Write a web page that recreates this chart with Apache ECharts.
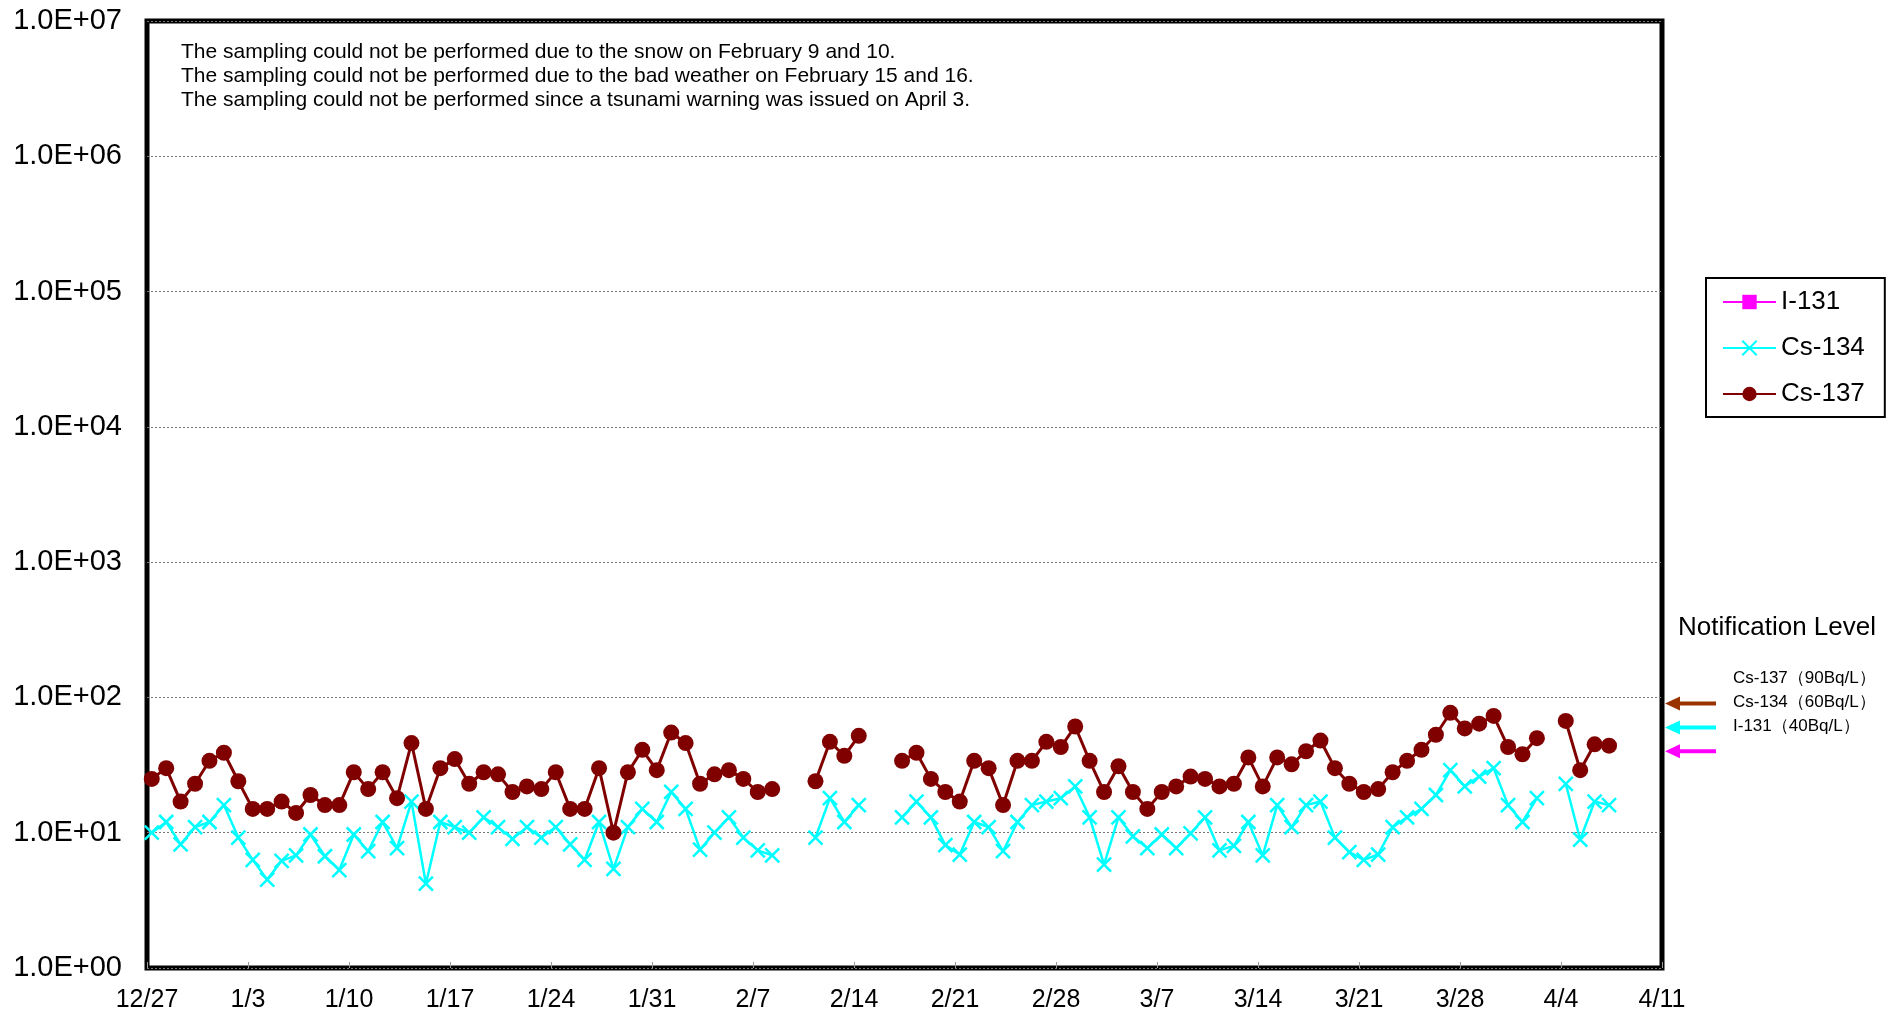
<!DOCTYPE html>
<html>
<head>
<meta charset="utf-8">
<script src="https://cdn.jsdelivr.net/npm/echarts@6/dist/echarts.min.js"></script>
<style>
html, body { margin: 0; padding: 0; background: #fff; }
#main { width: 1899px; height: 1016px; }
</style>
</head>
<body>
<div id="main"></div>
<script>
// sampling days (one per day, null value = no sampling)
var sampleDates = [
    '12/27','12/28','12/29','12/30','12/31','1/1','1/2',
    '1/3','1/4','1/5','1/6','1/7','1/8','1/9',
    '1/10','1/11','1/12','1/13','1/14','1/15','1/16',
    '1/17','1/18','1/19','1/20','1/21','1/22','1/23',
    '1/24','1/25','1/26','1/27','1/28','1/29','1/30',
    '1/31','2/1','2/2','2/3','2/4','2/5','2/6',
    '2/7','2/8','2/9','2/10','2/11','2/12','2/13',
    '2/14','2/15','2/16','2/17','2/18','2/19','2/20',
    '2/21','2/22','2/23','2/24','2/25','2/26','2/27',
    '2/28','3/1','3/2','3/3','3/4','3/5','3/6',
    '3/7','3/8','3/9','3/10','3/11','3/12','3/13',
    '3/14','3/15','3/16','3/17','3/18','3/19','3/20',
    '3/21','3/22','3/23','3/24','3/25','3/26','3/27',
    '3/28','3/29','3/30','3/31','4/1','4/2','4/3',
    '4/4','4/5','4/6','4/7'
];
// Cs-137 (Bq/L)
var cs137 = [
    25, 30, 17, 23, 34, 39, 24,
    15, 15, 17, 14, 19, 16, 16,
    28, 21, 28, 18, 46, 15, 30,
    35, 23, 28, 27, 20, 22, 21,
    28, 15, 15, 30, 10, 28, 41,
    29, 55, 46, 23, 27, 29, 25,
    20, 21, null, null, 24, 47, 37,
    52, null, null, 34, 39, 25, 20,
    17, 34, 30, 16, 34, 34, 47,
    43, 61, 34, 20, 31, 20, 15,
    20, 22, 26, 25, 22, 23, 36,
    22, 36, 32, 40, 48, 30, 23,
    20, 21, 28, 34, 41, 53, 77,
    59, 64, 73, 43, 38, 50, null,
    67, 29, 45, 44
];
// Cs-134 (Bq/L)
var cs134 = [
    10, 12, 8.2, 11, 12, 16, 9.2,
    6.3, 4.5, 6.2, 6.8, 9.7, 6.7, 5.3,
    9.7, 7.3, 12, 7.7, 17, 4.2, 12,
    11, 10, 13, 11, 9.0, 11, 9.2,
    11, 8.2, 6.3, 12, 5.4, 11, 15,
    12, 20, 15, 7.5, 10, 13, 9.2,
    7.4, 6.8, null, null, 9.2, 18, 12,
    16, null, null, 13, 17, 13, 8.1,
    6.9, 12, 11, 7.3, 12, 16, 17,
    18, 22, 13, 5.8, 13, 9.4, 7.7,
    9.7, 7.7, 9.9, 13, 7.4, 8.0, 12,
    6.8, 16, 11, 16, 17, 9.2, 7.2,
    6.3, 6.9, 11, 13, 15, 19, 29,
    22, 26, 30, 16, 12, 18, null,
    23, 8.9, 17, 16
];
// I-131: not detected
var i131 = [];

var tickLabels = ['12/27','1/3','1/10','1/17','1/24','1/31','2/7','2/14','2/21','2/28','3/7','3/14','3/21','3/28','4/4','4/11'];

var levelNames = ['Cs-137（90Bq/L）', 'Cs-134（60Bq/L）', 'I-131（40Bq/L）'];
var levelValues = [90, 60, 40];
var levelColors = ['#993300', '#00ffff', '#ff00ff'];

var notes = [
    'The sampling could not be performed due to the snow on February 9 and 10.',
    'The sampling could not be performed due to the bad weather on February 15 and 16.',
    'The sampling could not be performed since a tsunami warning was issued on April 3.'
];

var FONT = '"Liberation Sans", Arial, sans-serif';
var sampleHour = 0.33; // sampled in the morning

// date string -> days since 12/27
function dayIndex(s) {
    var p = s.split('/');
    var m = parseInt(p[0]), d = parseInt(p[1]);
    var y = m == 12 ? 2013 : 2014;
    return (Date.UTC(y, m - 1, d) - Date.UTC(2013, 11, 27)) / 86400000;
}

function toPoints(values) {
    var arr = [];
    for (var i = 0; i < sampleDates.length; i++) {
        var v = values[i];
        arr.push([dayIndex(sampleDates[i]) + sampleHour, v == null ? '-' : v]);
    }
    return arr;
}

var chart = echarts.init(document.getElementById('main'));

var option = {
    animation: false,
    textStyle: { fontFamily: FONT },
    grid: {
        left: 147,
        right: 237,
        top: 21,
        bottom: 48,
        show: true,
        borderColor: '#000',
        borderWidth: 5,
        backgroundColor: '#fff'
    },
    legend: {
        orient: 'vertical',
        left: 1706,
        top: 278,
        padding: [11, 20, 10, 16],
        itemGap: 20,
        itemWidth: 53,
        itemHeight: 18,
        borderColor: '#000',
        borderWidth: 2,
        backgroundColor: '#fff',
        textStyle: { fontSize: 26, lineHeight: 26, color: '#000', fontFamily: FONT },
        data: ['I-131', 'Cs-134', 'Cs-137']
    },
    xAxis: {
        type: 'value',
        min: 0,
        max: 105,
        interval: 7,
        axisLine: { show: false },
        axisTick: { show: true, inside: true, length: 6, lineStyle: { color: '#999', width: 1 } },
        splitLine: { show: false },
        axisLabel: {
            margin: 20,
            fontSize: 25,
            color: '#000',
            fontFamily: FONT,
            formatter: function(v) {
                return tickLabels[Math.round(v / 7)];
            }
        }
    },
    yAxis: {
        type: 'log',
        logBase: 10,
        min: 1,
        max: 10000000,
        interval: 1,
        axisLine: { show: false },
        axisTick: { show: false },
        splitLine: { show: true, lineStyle: { color: '#777', type: [2, 2], width: 1 } },
        axisLabel: {
            margin: 25,
            fontSize: 29,
            color: '#000',
            fontFamily: FONT,
            formatter: function(v) {
                var e = Math.round(Math.log(v) / Math.LN10);
                return '1.0E+' + (e < 10 ? '0' + e : e);
            }
        }
    },
    series: [
        {
            name: 'I-131',
            type: 'line',
            data: i131,
            symbol: 'rect',
            symbolSize: 12,
            itemStyle: { color: '#ff00ff' },
            lineStyle: { color: '#ff00ff', width: 2.5 }
        },
        {
            name: 'Cs-134',
            type: 'line',
            data: toPoints(cs134),
            connectNulls: false,
            symbol: 'path://M0,0L10,10M10,0L0,10',
            symbolSize: 14,
            showAllSymbol: true,
            itemStyle: { color: '#00ffff', borderColor: '#00ffff', borderWidth: 2.5 },
            lineStyle: { color: '#00ffff', width: 2.5 }
        },
        {
            name: 'Cs-137',
            type: 'line',
            data: toPoints(cs137),
            connectNulls: false,
            symbol: 'circle',
            symbolSize: 16,
            showAllSymbol: true,
            itemStyle: { color: '#800000' },
            lineStyle: { color: '#800000', width: 3 }
        }
    ]
};

chart.setOption(option);

// notes, notification level arrows
var graphics = [];
for (var i = 0; i < notes.length; i++) {
    graphics.push({
        type: 'text',
        x: 181,
        y: 52 + i * 24,
        style: { text: notes[i], font: '21px ' + FONT, fill: '#000', align: 'left', verticalAlign: 'middle' }
    });
}
graphics.push({
    type: 'text',
    x: 1678,
    y: 628,
    style: { text: 'Notification Level', font: '26px ' + FONT, fill: '#000', align: 'left', verticalAlign: 'middle' }
});
var tipX = 1665;
for (var j = 0; j < levelValues.length; j++) {
    var y = chart.convertToPixel({ yAxisIndex: 0 }, levelValues[j]);
    graphics.push({
        type: 'line',
        shape: { x1: tipX + 12, y1: y, x2: tipX + 51, y2: y },
        style: { stroke: levelColors[j], lineWidth: 4 }
    });
    graphics.push({
        type: 'polygon',
        shape: { points: [[tipX, y], [tipX + 15, y - 7], [tipX + 15, y + 7]] },
        style: { fill: levelColors[j] }
    });
    graphics.push({
        type: 'text',
        x: 1733,
        y: y - 25,
        style: { text: levelNames[j], font: '17px ' + FONT, fill: '#000', align: 'left', verticalAlign: 'middle' }
    });
}
chart.setOption({ graphic: graphics });
</script>
</body>
</html>
